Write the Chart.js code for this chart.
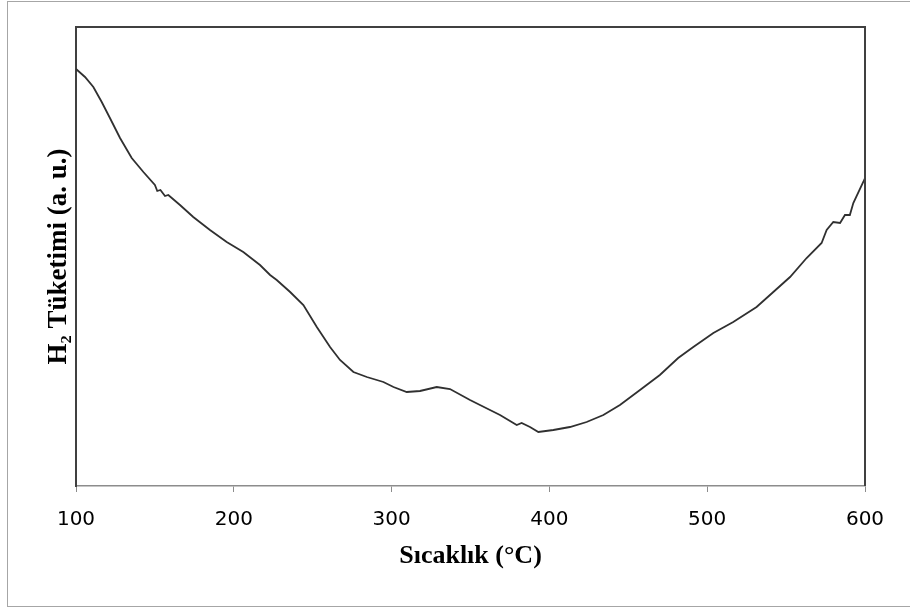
<!DOCTYPE html>
<html>
<head>
<meta charset="utf-8">
<script src="https://cdn.jsdelivr.net/npm/chart.js@4/dist/chart.umd.min.js"></script>
<style>
  html, body { margin: 0; padding: 0; background: #fff; }
  #wrap { width: 910px; height: 612px; position: relative; }
</style>
</head>
<body>
<div id="wrap"><canvas id="c" width="910" height="612"></canvas></div>
<script>
// Temperature (°C)
const temperatures = [100, 105.7, 111, 116.3, 121.5, 127.9, 135.3, 142.7, 150, 151.5, 153.5, 156.4, 158.5, 165.9, 174.3, 184.9, 195.5, 206, 216.6, 223, 227.2, 235.7, 244.1, 252.6, 261, 267.3, 275.8, 284.3, 294.8, 301.2, 309.6, 318, 328.6, 337, 349.7, 356, 368.7, 379.3, 382.4, 387.7, 393, 402.5, 413, 423.6, 434.2, 444.7, 457.4, 470, 481.6, 491.2, 503.9, 516.5, 531.3, 541.9, 552.5, 563, 572.5, 575.7, 579.9, 584.2, 587.3, 590.4, 592.6, 598.9, 600];
// H2 consumption (a. u.)
const h2Consumption = [417, 409, 399, 384, 368, 348, 328, 314, 301, 295, 296, 290, 291, 281, 269, 256, 244, 234, 221, 211, 206, 194, 181, 159, 139, 126, 114, 109, 104, 99, 94, 95, 99, 97, 86, 81, 71, 61, 63, 59, 54, 56, 59, 64, 71, 81, 96, 111, 128, 139, 153, 164, 179, 194, 209, 228, 243, 256, 264, 263, 271, 271, 283, 304, 308];
const xTicks = [100, 200, 300, 400, 500, 600];
const xTitle = 'Sıcaklık (°C)';
const yTitle = 'H₂ Tüketimi (a. u.)';

const points = temperatures.map((t, i) => ({ x: t, y: h2Consumption[i] }));

const framePlugin = {
  id: 'frame',
  beforeDraw(chart) {
    const ctx = chart.ctx;
    ctx.save();
    ctx.fillStyle = '#fff';
    ctx.fillRect(0, 0, chart.width, chart.height);
    ctx.strokeStyle = '#a6a6a6';
    ctx.lineWidth = 1;
    ctx.strokeRect(7.5, 1.5, 1000, 605);
    ctx.restore();
  },
  afterDraw(chart) {
    const a = chart.chartArea;
    const ctx = chart.ctx;
    ctx.save();
    ctx.strokeStyle = '#404040';
    ctx.lineWidth = 2;
    ctx.beginPath();
    ctx.moveTo(a.left, a.top);
    ctx.lineTo(a.right, a.top);
    ctx.lineTo(a.right, a.bottom);
    ctx.stroke();
    ctx.restore();
  }
};

new Chart(document.getElementById('c'), {
  type: 'line',
  data: {
    datasets: [{
      data: points,
      borderColor: '#303030',
      borderWidth: 1.8,
      pointRadius: 0,
      tension: 0,
      fill: false
    }]
  },
  options: {
    responsive: false,
    animation: false,
    events: [],
    layout: { padding: { left: 0, top: 27, right: 45, bottom: 0 } },
    plugins: { legend: { display: false }, tooltip: { enabled: false } },
    scales: {
      x: {
        type: 'linear',
        min: 100,
        max: 600,
        afterBuildTicks(scale) { scale.ticks = xTicks.map(v => ({ value: v })); },
        afterFit(scale) { scale.height = 126; },
        ticks: {
          color: '#000',
          font: { family: 'DejaVu Sans', size: 20 },
          padding: 16,
          maxRotation: 0
        },
        grid: { drawOnChartArea: false, drawTicks: true, tickLength: 6, color: '#8c8c8c', lineWidth: 1 },
        border: { display: true, color: '#8c8c8c', width: 1.5 },
        title: {
          display: true,
          text: xTitle,
          color: '#000',
          font: { family: 'Liberation Serif', size: 26, weight: 'bold' },
          padding: { top: 0, bottom: 40 }
        }
      },
      y: {
        type: 'linear',
        min: 0,
        max: 459,
        afterFit(scale) { scale.width = 76; },
        ticks: { display: false },
        grid: { display: true, drawOnChartArea: false, drawTicks: false, color: '#404040' },
        border: { display: true, color: '#404040', width: 2 },
        title: {
          display: true,
          text: yTitle,
          color: '#000',
          font: { family: 'Liberation Serif', size: 27, weight: 'bold' },
          padding: { top: 43, bottom: 0 }
        }
      }
    }
  },
  plugins: [framePlugin]
});
</script>
</body>
</html>
